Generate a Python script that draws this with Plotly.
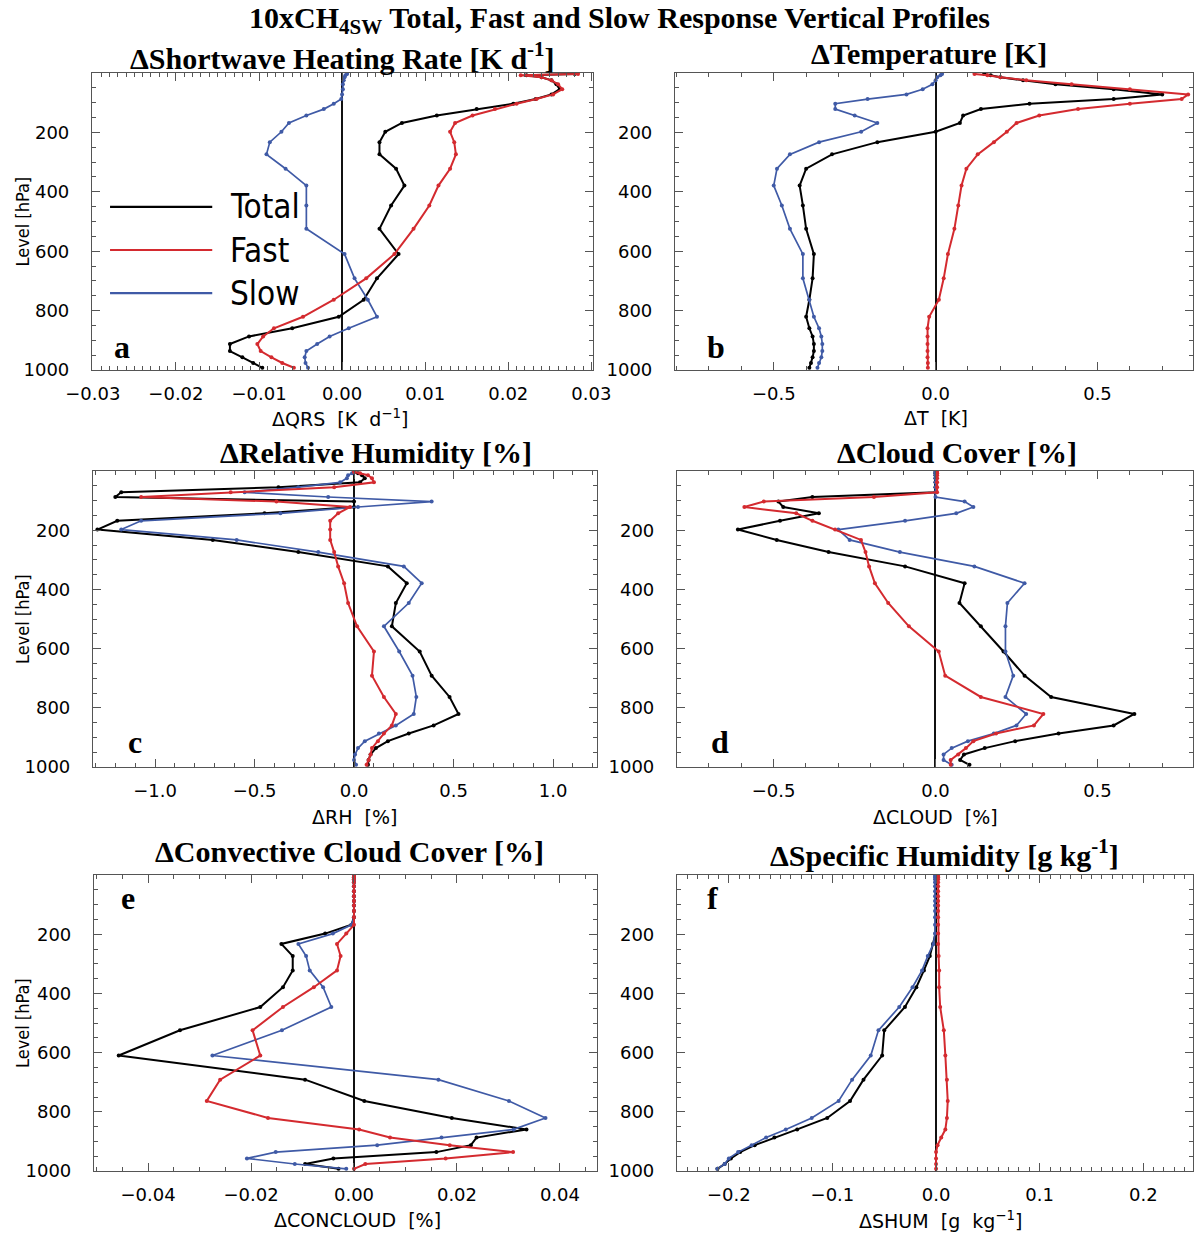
import plotly.graph_objects as go

W, H = 1194, 1233

# CAM5 model mid-levels [hPa]
levels = [3.64, 7.59, 14.36, 24.61, 38.27, 54.60, 72.01, 87.82, 103.32, 121.55,
          142.99, 168.23, 197.91, 232.83, 273.91, 322.24, 379.10, 445.99, 524.69, 609.78,
          691.39, 763.40, 820.86, 859.53, 887.02, 912.64, 936.20, 957.49, 976.33, 992.56]

# (a) shortwave heating rate [K/d]
qrs_total = [0.0280, 0.0222, 0.0240, 0.0252, 0.0258, 0.0262, 0.0252, 0.0233, 0.0206, 0.0162,
             0.0114, 0.0072, 0.0052, 0.0045, 0.0045, 0.0065, 0.0075, 0.0059, 0.0045, 0.0068,
             0.0042, 0.0026, -0.0004, -0.0060, -0.0112, -0.0135, -0.0135, -0.0120, -0.0107, -0.0096]
qrs_fast = [0.0284, 0.0215, 0.0240, 0.0252, 0.0260, 0.0265, 0.0254, 0.0234, 0.0210, 0.0184,
            0.0157, 0.0136, 0.0130, 0.0135, 0.0137, 0.0130, 0.0116, 0.0105, 0.0086, 0.0063,
            0.0029, -0.0010, -0.0047, -0.0082, -0.0095, -0.0102, -0.0098, -0.0085, -0.0072, -0.0058]
qrs_slow = [0.0006, 0.0004, 0.0003, 0.0002, 0.0001, 0.0001, 0.0000, -0.0001, -0.0010, -0.0022,
            -0.0043, -0.0064, -0.0073, -0.0087, -0.0091, -0.0068, -0.0043, -0.0043, -0.0043, 0.0003,
            0.0015, 0.0031, 0.0042, 0.0008, -0.0015, -0.0030, -0.0043, -0.0045, -0.0044, -0.0041]

# (b) temperature [K]
t_total = [0.15, 0.17, 0.20, 0.27, 0.37, 0.55, 0.70, 0.55, 0.29, 0.14,
           0.085, 0.075, 0.0, -0.18, -0.32, -0.40, -0.42, -0.41, -0.40, -0.376,
           -0.38, -0.39, -0.40, -0.39, -0.38, -0.376, -0.376, -0.38, -0.385, -0.39]
t_fast = [0.12, 0.16, 0.20, 0.28, 0.42, 0.60, 0.78, 0.76, 0.60, 0.44,
          0.32, 0.25, 0.22, 0.18, 0.13, 0.095, 0.08, 0.07, 0.058, 0.038,
          0.025, 0.01, -0.02, -0.025, -0.025, -0.025, -0.025, -0.025, -0.024, -0.024]
t_slow = [0.02, 0.015, 0.005, 0.0, -0.01, -0.04, -0.09, -0.21, -0.31, -0.31,
          -0.25, -0.18, -0.23, -0.36, -0.45, -0.49, -0.50, -0.475, -0.45, -0.41,
          -0.41, -0.39, -0.376, -0.36, -0.353, -0.35, -0.35, -0.353, -0.36, -0.365]

# (c) relative humidity [%]
rh_total = [0.0, 0.02, 0.04, 0.054, 0.03, -0.38, -1.17, -1.20, 0.0, 0.0,
            -0.45, -1.19, -1.29, -0.71, -0.28, 0.17, 0.265, 0.21, 0.19, 0.33,
            0.39, 0.48, 0.525, 0.40, 0.275, 0.17, 0.11, 0.083, 0.073, 0.07]
rh_fast = [0.0, 0.03, 0.07, 0.09, 0.10, -0.10, -0.62, -1.07, -0.39, -0.02,
           -0.08, -0.12, -0.12, -0.12, -0.10, -0.08, -0.05, -0.03, 0.015, 0.10,
           0.09, 0.15, 0.21, 0.19, 0.15, 0.12, 0.09, 0.083, 0.073, 0.063]
rh_slow = [0.0, -0.01, -0.03, -0.036, -0.07, -0.28, -0.55, -0.13, 0.39, 0.02,
           -0.37, -1.07, -1.17, -0.59, -0.18, 0.25, 0.34, 0.275, 0.15, 0.227,
           0.294, 0.313, 0.30, 0.21, 0.125, 0.054, 0.02, 0.005, 0.0, 0.01]

# (d) cloud cover [%]
cl_total = [0.0, 0.0, 0.0, 0.0, 0.0, 0.0, 0.0, -0.38, -0.485, -0.47,
            -0.36, -0.48, -0.61, -0.49, -0.33, -0.094, 0.09, 0.074, 0.14, 0.21,
            0.275, 0.357, 0.614, 0.55, 0.38, 0.246, 0.152, 0.088, 0.076, 0.105]
cl_fast = [0.005, 0.005, 0.005, 0.005, 0.005, 0.005, 0.005, -0.19, -0.53, -0.59,
           -0.43, -0.38, -0.31, -0.23, -0.216, -0.205, -0.187, -0.146, -0.082, 0.01,
           0.03, 0.14, 0.333, 0.304, 0.187, 0.117, 0.094, 0.07, 0.047, 0.047]
cl_slow = [0.0, 0.0, 0.0, 0.0, 0.0, 0.0, 0.0, 0.0, 0.09, 0.117,
           0.064, -0.094, -0.30, -0.265, -0.11, 0.12, 0.275, 0.222, 0.216, 0.216,
           0.24, 0.216, 0.28, 0.25, 0.18, 0.10, 0.05, 0.025, 0.025, 0.05]

# (e) convective cloud cover [%]
cc_total = [0.0, 0.0, 0.0, 0.0, 0.0, 0.0, 0.0, 0.0, 0.0, 0.0,
            0.0, -0.0005, -0.0056, -0.0141, -0.0119, -0.0119, -0.0138, -0.0182, -0.0338, -0.0457,
            -0.0095, 0.0020, 0.0190, 0.0335, 0.0238, 0.0227, 0.0160, -0.0040, -0.0095, -0.0030]
cc_fast = [0.0, 0.0, 0.0, 0.0, 0.0, 0.0, 0.0, 0.0, 0.0, 0.0,
           0.0, 0.0, -0.0015, -0.0033, -0.0026, -0.0033, -0.0078, -0.0138, -0.0197, -0.0182,
           -0.0260, -0.0286, -0.0167, 0.0010, 0.0070, 0.0186, 0.0309, 0.0178, 0.0022, 0.0]
cc_slow = [0.0, 0.0, 0.0, 0.0, 0.0, 0.0, 0.0, 0.0, 0.0, 0.0,
           0.0, -0.0005, -0.0041, -0.0108, -0.0093, -0.0086, -0.0060, -0.0044, -0.0140, -0.0275,
           0.0164, 0.0301, 0.0372, 0.0310, 0.0170, 0.0045, -0.0152, -0.0208, -0.0115, -0.0015]

# (f) specific humidity [g/kg]
sh_total = [0.0, 0.0, 0.0, 0.0, 0.0, 0.0, 0.0, 0.0, 0.0, 0.0,
            0.0, 0.0, -0.0005, -0.003, -0.006, -0.0117, -0.019, -0.030, -0.050, -0.052,
            -0.070, -0.083, -0.105, -0.134, -0.156, -0.175, -0.189, -0.198, -0.204, -0.211]
sh_fast = [0.002, 0.002, 0.002, 0.002, 0.002, 0.002, 0.002, 0.002, 0.002, 0.002,
           0.002, 0.002, 0.002, 0.002, 0.0025, 0.003, 0.003, 0.004, 0.0075, 0.009,
           0.0105, 0.0113, 0.0105, 0.009, 0.005, 0.0015, 0.0, 0.0, 0.0, 0.0]
sh_slow = [-0.001, -0.001, -0.001, -0.001, -0.001, -0.001, -0.001, -0.001, -0.001, -0.001,
           -0.001, -0.001, -0.001, -0.0026, -0.008, -0.0135, -0.0227, -0.0355, -0.0556, -0.063,
           -0.081, -0.094, -0.120, -0.145, -0.164, -0.178, -0.191, -0.200, -0.204, -0.211]

series_names = ["Total", "Fast", "Slow"]
colors = {"Total": "#000000", "Fast": "#d42a2f", "Slow": "#3f5aa6"}

panels = [
    dict(data={"Total": qrs_total, "Fast": qrs_fast, "Slow": qrs_slow},
         px=(92, 593), py=(73, 370), rng=[-0.0301, 0.0302], dtick=0.01, minor=0.001, fmt=".2f",
         title="<b>ΔShortwave Heating Rate [K d<sup>-1</sup>]</b>", tpos=(342, 56),
         xlab="ΔQRS  [K  d<sup>−1</sup>]", xpos=(340, 418), letter="a", lpos=(122, 347)),
    dict(data={"Total": t_total, "Fast": t_fast, "Slow": t_slow},
         px=(675, 1193), py=(73, 370), rng=[-0.805, 0.795], dtick=0.5, minor=0.1, fmt=".1f",
         title="<b>ΔTemperature [K]</b>", tpos=(929, 54),
         xlab="ΔT  [K]", xpos=(936, 418), letter="b", lpos=(716, 347)),
    dict(data={"Total": rh_total, "Fast": rh_fast, "Slow": rh_slow},
         px=(93, 597), py=(471, 767), rng=[-1.312, 1.221], dtick=0.5, minor=0.1, fmt=".1f",
         title="<b>ΔRelative Humidity [%]</b>", tpos=(376, 452),
         xlab="ΔRH  [%]", xpos=(355, 817), letter="c", lpos=(135, 742)),
    dict(data={"Total": cl_total, "Fast": cl_fast, "Slow": cl_slow},
         px=(677, 1193), py=(471, 767), rng=[-0.798, 0.795], dtick=0.5, minor=0.1, fmt=".1f",
         title="<b>ΔCloud Cover [%]</b>", tpos=(957, 452),
         xlab="ΔCLOUD  [%]", xpos=(935, 817), letter="d", lpos=(720, 742)),
    dict(data={"Total": cc_total, "Fast": cc_fast, "Slow": cc_slow},
         px=(94, 597), py=(875, 1171), rng=[-0.0505, 0.0472], dtick=0.02, minor=0.005, fmt=".2f",
         title="<b>ΔConvective Cloud Cover [%]</b>", tpos=(350, 851),
         xlab="ΔCONCLOUD  [%]", xpos=(357, 1220), letter="e", lpos=(128, 898)),
    dict(data={"Total": sh_total, "Fast": sh_fast, "Slow": sh_slow},
         px=(677, 1193), py=(875, 1171), rng=[-0.250, 0.248], dtick=0.1, minor=0.01, fmt=".1f",
         title="<b>ΔSpecific Humidity [g kg<sup>-1</sup>]</b>", tpos=(944, 853),
         xlab="ΔSHUM  [g  kg<sup>−1</sup>]", xpos=(940, 1220), letter="f", lpos=(712, 898)),
]

y_ticks = [200, 400, 600, 800, 1000]

fig = go.Figure()
annotations = []
shapes = []
layout = dict(width=W, height=H, margin=dict(l=0, r=0, t=0, b=0, pad=0, autoexpand=False),
              paper_bgcolor="white", plot_bgcolor="white", showlegend=False)

tickfont = dict(family="DejaVu Sans", size=18, color="black")
serif = "Liberation Serif, Times New Roman, serif"


def ann(text, x, y, size, family, **kw):
    d = dict(text=text, x=x / W, y=1 - y / H, xref="paper", yref="paper",
             showarrow=False, xanchor="center", yanchor="middle",
             font=dict(family=family, size=size, color="black"))
    d.update(kw)
    annotations.append(d)


for i, p in enumerate(panels):
    n = i + 1
    xa = "x" if n == 1 else f"x{n}"
    ya = "y" if n == 1 else f"y{n}"
    for name in ["Total", "Slow", "Fast"]:
        fig.add_trace(go.Scatter(
            x=p["data"][name], y=levels, mode="lines+markers", name=name,
            line=dict(color=colors[name], width=2 if name != "Slow" else 1.7),
            marker=dict(color=colors[name], size=4),
            xaxis=xa, yaxis=ya, cliponaxis=True))
    layout["xaxis" if n == 1 else f"xaxis{n}"] = dict(
        domain=[p["px"][0] / W, p["px"][1] / W], range=p["rng"], anchor=ya,
        tickmode="linear", tick0=0, dtick=p["dtick"], tickformat=p["fmt"],
        ticks="inside", ticklen=8, tickwidth=1, tickcolor="#555",
        showline=True, linecolor="#555", linewidth=1.2, mirror="ticks",
        showgrid=False, zeroline=True, zerolinecolor="#111", zerolinewidth=1.5,
        minor=dict(ticks="inside", ticklen=4, tickwidth=1, tickcolor="#555",
                   tickmode="linear", tick0=0, dtick=p["minor"], showgrid=False),
        tickfont=tickfont, ticklabelstandoff=7, fixedrange=True, automargin=False)
    layout["yaxis" if n == 1 else f"yaxis{n}"] = dict(
        domain=[1 - p["py"][1] / H, 1 - p["py"][0] / H], range=[1000, 0], anchor=xa,
        tickmode="array", tickvals=y_ticks, ticktext=[str(v) for v in y_ticks],
        ticks="inside", ticklen=8, tickwidth=1, tickcolor="#555",
        showline=True, linecolor="#555", linewidth=1.2, mirror="ticks",
        showgrid=False, zeroline=False,
        minor=dict(ticks="inside", ticklen=4, tickwidth=1, tickcolor="#555",
                   tickmode="linear", tick0=0, dtick=50, showgrid=False),
        tickfont=tickfont, ticklabelstandoff=18, fixedrange=True, automargin=False)
    ann(p["title"], p["tpos"][0], p["tpos"][1], 30, serif)
    ann(p["xlab"], p["xpos"][0], p["xpos"][1], 19, "DejaVu Sans")
    ann("<b>" + p["letter"] + "</b>", p["lpos"][0], p["lpos"][1], 32, serif)
    if p["px"][0] < 300:
        ann("Level [hPa]", 22, (p["py"][0] + p["py"][1]) / 2, 18,
            "DejaVu Sans Condensed, DejaVu Sans", textangle=-90)

# main title (anchored to the top edge so it is not clipped)
ann("<b>10xCH<sub>4SW</sub> Total, Fast and Slow Response Vertical Profiles</b>", 619, 0, 30, serif,
    yanchor="top", borderpad=0)

# legend in panel a (line samples in axis-domain coordinates)
leg_y = [0.549, 0.404, 0.259]
for name, yy in zip(series_names, leg_y):
    shapes.append(dict(type="line", xref="x domain", yref="y domain", x0=0.036, x1=0.24,
                       y0=yy, y1=yy, line=dict(color=colors[name], width=2.2)))
    annotations.append(dict(text=name, xref="x domain", yref="y domain", x=0.272, y=yy,
                            xanchor="left", yanchor="middle", showarrow=False,
                            font=dict(family="DejaVu Sans Condensed, DejaVu Sans", size=33,
                                      color="black")))

layout["annotations"] = annotations
layout["shapes"] = shapes
fig.update_layout(**layout)
fig.write_html("out.html")
